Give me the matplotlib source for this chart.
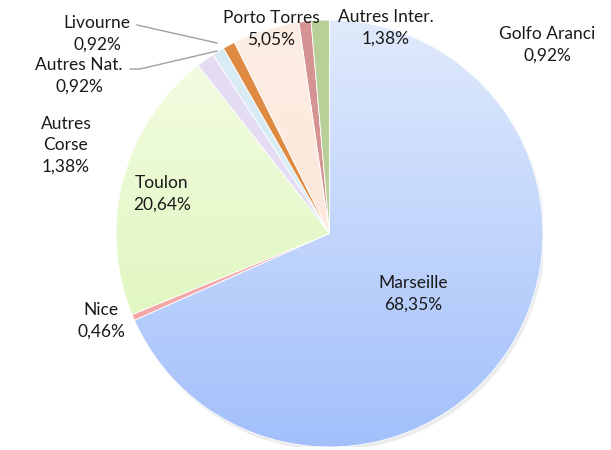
import numpy as np
import matplotlib
matplotlib.use("Agg")
import matplotlib.pyplot as plt
from matplotlib.colors import LinearSegmentedColormap
from matplotlib.patches import Circle

plt.rcParams['font.family'] = ['Lato', 'DejaVu Sans']

# data, clockwise from the top
ports = ["Marseille", "Nice", "Toulon", "Autres\nCorse", "Autres Nat.",
         "Livourne", "Porto Torres", "Golfo Aranci", "Autres Inter."]
shares = [68.35, 0.46, 20.64, 1.38, 0.92, 0.92, 5.05, 0.92, 1.38]
pct_labels = ["68,35%", "0,46%", "20,64%", "1,38%", "0,92%",
              "0,92%", "5,05%", "0,92%", "1,38%"]

colors = ["#c3d6fb", "#f4a7a7", "#e6f9c8", "#e3dcf3", "#d9ecf3",
          "#df8a42", "#fde8db", "#d69393", "#b8d098"]
# top / bottom colours for the gradient slices
gradients = {0: ("#e0eafc", "#a3c0fb"), 2: ("#f5fde6", "#d8f4b0"),
             6: ("#fdeee4", "#fbe0cf")}

W, H = 611, 450
fig = plt.figure(figsize=(W / 100, H / 100), dpi=100)
cx, cy, r = 329.5, 233.5, 213.5
ax = fig.add_axes([(cx - r) / W, (H - cy - r) / H, 2 * r / W, 2 * r / H])

# soft shadow
for i, a in enumerate([0.05, 0.05, 0.06]):
    ax.add_patch(Circle((0.006 + 0.003 * i, -0.012 - 0.003 * i), 1.0,
                        color='gray', alpha=a, lw=0, zorder=0))

wedges, _ = ax.pie(shares, colors=colors, startangle=90, counterclock=False,
                   radius=1.0, wedgeprops=dict(linewidth=0.6, edgecolor='white'))
for w in wedges:
    w.set_zorder(2)

grad = np.linspace(0, 1, 256).reshape(-1, 1)
for idx, (c_top, c_bot) in gradients.items():
    cmap = LinearSegmentedColormap.from_list("g%d" % idx, [c_top, c_bot])
    im = ax.imshow(grad, cmap=cmap, extent=[-1, 1, -1, 1], origin='upper',
                   aspect='auto', zorder=2.5)
    im.set_clip_path(wedges[idx])
    wedges[idx].set_zorder(3)
    wedges[idx].set_facecolor('none')

ax.set_xlim(-1, 1)
ax.set_ylim(-1, 1)
ax.set_aspect('equal')
ax.axis('off')


def px(x, y):
    return x / W, 1 - y / H


label_pos = {
    0: (413, 294, 'center'),
    1: (101, 321, 'center'),
    2: (162, 194, 'center'),
    3: (66, 145, 'center'),
    4: (79, 76, 'center'),
    5: (97, 34, 'center'),
    6: (271, 29, 'center'),
    7: (547, 45, 'center'),
    8: (386, 28, 'center'),
}
for i, (x, y, ha) in label_pos.items():
    fx, fy = px(x, y)
    fig.text(fx, fy, ports[i] + "\n" + pct_labels[i], ha=ha, va='center',
             fontsize=12.5, color='#1a1a1a', linespacing=1.4, zorder=5)

# leader lines
for pts in [[(137, 25), (217, 43)], [(130, 69), (140, 69), (217, 51)]]:
    xs = [p[0] / W for p in pts]
    ys = [1 - p[1] / H for p in pts]
    fig.add_artist(plt.Line2D(xs, ys, color='#a0a0a0', lw=1))

fig.savefig("out.png", dpi=100)
